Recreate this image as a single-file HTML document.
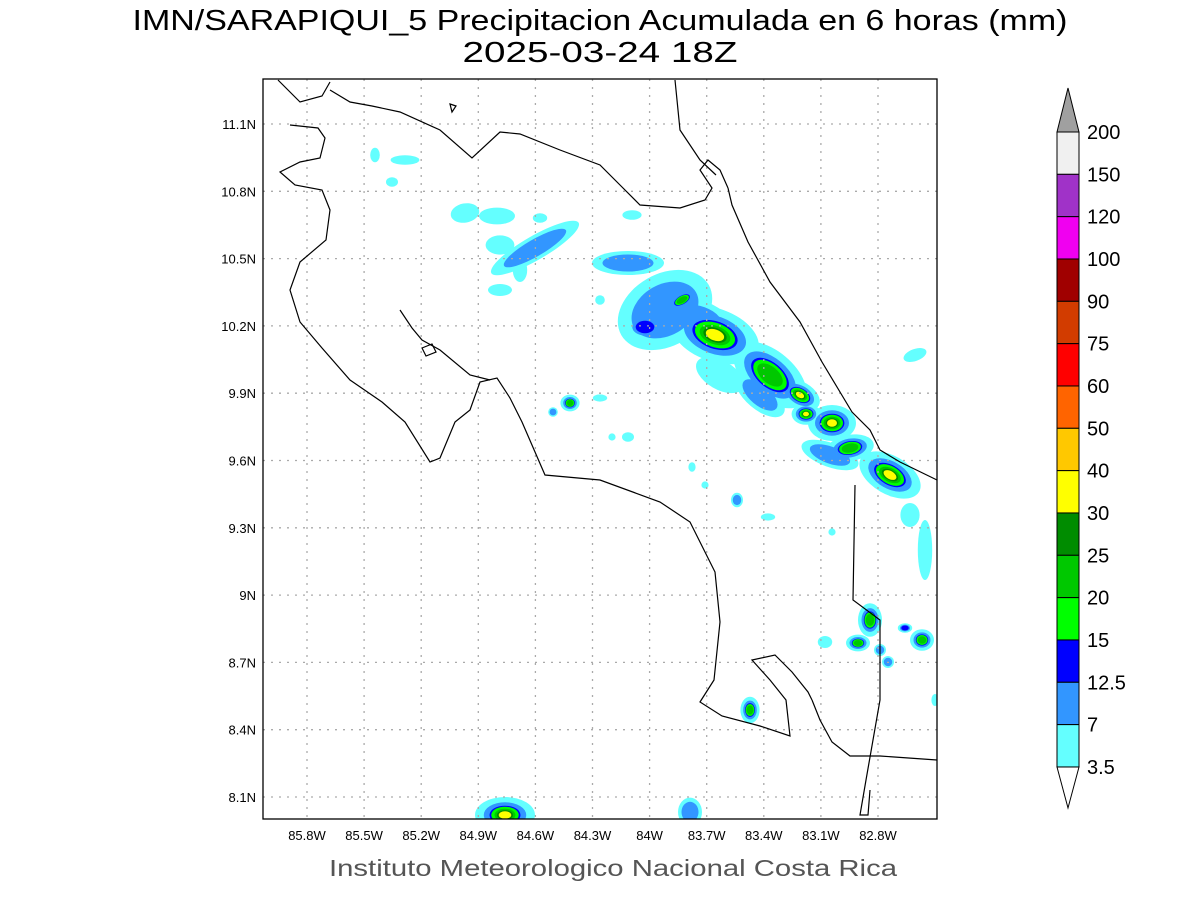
<!DOCTYPE html>
<html><head><meta charset="utf-8"><style>
body{margin:0;background:#fff;}
svg{display:block;font-family:"Liberation Sans",sans-serif;}
</style></head><body>
<svg id="s" width="1200" height="900" xmlns="http://www.w3.org/2000/svg">
<defs><clipPath id="c"><rect x="263" y="79" width="674" height="740"/></clipPath></defs>
<rect width="1200" height="900" fill="#fff"/>
<text x="600" y="30" font-size="29" text-anchor="middle" textLength="935" lengthAdjust="spacingAndGlyphs">IMN/SARAPIQUI_5 Precipitacion Acumulada en 6 horas (mm)</text>
<text x="600" y="62" font-size="29" text-anchor="middle" textLength="275" lengthAdjust="spacingAndGlyphs">2025-03-24 18Z</text>
<g id="blobs" clip-path="url(#c)"></g>
<g id="grid" stroke="#aaa" stroke-width="1.3" stroke-dasharray="2,6" clip-path="url(#c)"></g>
<g fill="none" stroke="#000" stroke-width="1.2" clip-path="url(#c)">
<polyline points="278,80 300,102 322,96 330,82"/>
<polyline points="330,90 350,102 372,106 400,112 440,130 472,158 500,132 520,134 560,150 600,165 620,185 640,205 680,208 705,200 712,188 700,170 708,160 720,170 728,188"/>
<polyline points="290,125 318,128 325,138 320,158 300,162 280,172 295,185 322,190 330,210 326,240 300,262 290,290 300,322 322,348 350,380 382,402 405,422 430,462 440,458 455,422 470,410 480,382 497,378 510,398 522,422 545,475 600,480 660,502 690,522 715,572 720,622 714,680 700,702 722,716 760,726 790,736 786,700 770,680 752,660 775,655 792,672 808,692 812,700"/>
<polyline points="400,310 412,328 422,340 440,350 470,375 490,380"/>
<polygon points="422,348 432,344 436,352 426,356"/>
<polygon points="450,104 456,106 452,112"/>
<polyline points="675,80 680,130 700,160 716,175"/>
<polyline points="728,188 732,205 748,242 770,282 800,322 822,362 840,392 852,412 870,430 880,450 900,462 937,480"/>
<polyline points="855,485 853,600 880,620 880,700 866,780 860,815 868,815 870,790"/>
<polyline points="812,700 820,720 832,742 850,756 880,756 937,760"/>
</g>
<rect x="263" y="79" width="674" height="740" fill="none" stroke="#000" stroke-width="1.3"/>
<g id="lab" font-size="13"></g>
<text x="613" y="876" font-size="23" text-anchor="middle" fill="#555" textLength="568" lengthAdjust="spacingAndGlyphs">Instituto Meteorologico Nacional Costa Rica</text>
<g id="cb" stroke="#000" stroke-width="1"></g>
<g id="cbl" font-size="20"></g>
</svg>
<script>
var NS="http://www.w3.org/2000/svg";
function el(p,t,a,txt){var e=document.createElementNS(NS,t);for(var k in a)e.setAttribute(k,a[k]);if(txt)e.textContent=txt;document.getElementById(p).appendChild(e);return e;}
var lons=["85.8W","85.5W","85.2W","84.9W","84.6W","84.3W","84W","83.7W","83.4W","83.1W","82.8W"];
var lats=["11.1N","10.8N","10.5N","10.2N","9.9N","9.6N","9.3N","9N","8.7N","8.4N","8.1N"];
for(var i=0;i<11;i++){var x=307+i*57.1,y=124+i*67.3;
el("grid","line",{x1:x,y1:79,x2:x,y2:819});
el("grid","line",{x1:263,y1:y,x2:937,y2:y});
el("lab","text",{x:x,y:840,"text-anchor":"middle"},lons[i]);
el("lab","text",{x:256,y:y+5,"text-anchor":"end"},lats[i]);}
var B=[[628,263,30,10,0,2],[665,310,42,30,-30,2],[682,300,14,7,-30,4],[645,327,15,10,0,3],[700,320,28,16,20,2],[715,335,38,22,20,5],[720,375,22,12,30,1],[770,375,36,20,40,4],[800,395,18,11,30,5],[806,414,12,9,0,5],[832,423,20,15,0,5],[850,448,20,11,-10,4],[890,475,28,16,30,5],[830,455,25,10,20,2],[760,395,25,12,40,2],
[570,403,8,7,0,4],[553,412,4,4,0,2],[600,398,6,3,0,1],[628,437,5,4,0,1],[612,437,3,3,0,1],[692,467,3,4,0,1],[705,485,3,3,0,1],[737,500,5,6,0,2],[768,517,6,3,0,1],[832,532,3,3,0,1],
[465,213,12,8,-10,1],[497,216,15,7,0,1],[535,248,42,10,-30,2],[500,245,12,8,0,1],[520,270,6,10,0,1],[500,290,10,5,0,1],[632,215,8,4,0,1],[540,218,6,4,0,1],[405,160,12,4,0,1],[375,155,4,6,0,1],[392,182,5,4,0,1],[915,355,10,5,-20,1],[600,300,4,4,0,1],
[870,620,10,14,0,4],[858,643,10,7,0,4],[922,640,10,9,0,4],[905,628,6,4,0,3],[825,642,6,5,0,1],[880,650,5,5,0,2],[888,662,5,5,0,2],[750,710,8,11,0,4],[505,815,25,15,0,5],[690,812,10,12,0,2],[925,550,6,25,0,1],[910,515,8,10,0,1],[935,700,3,5,0,1]];
var L=[["#64ffff",1.2,1],["#3296ff",.85,2],["#0000ff",.62,3],["#00ff00",.55,4],["#00c800",.42,4],["#008c00",.32,5],["#ffff00",.25,5]];
L.forEach(function(l){B.forEach(function(b){if(b[5]>=l[2])el("blobs","ellipse",{cx:b[0],cy:b[1],rx:b[2]*l[1],ry:b[3]*l[1],fill:l[0],transform:"rotate("+b[4]+" "+b[0]+" "+b[1]+")"});});});
var cols=["#f0f0f0","#a032c8","#f000f0","#a00000","#d23c00","#ff0000","#ff6400","#ffc800","#ffff00","#008c00","#00c800","#00ff00","#0000ff","#3296ff","#64ffff"];
var labs=["200","150","120","100","90","75","60","50","40","30","25","20","15","12.5","7","3.5"];
var T0=132,H=42.33;
el("cb","polygon",{points:"1057,"+T0+" 1079,"+T0+" 1068,88",fill:"#a0a0a0"});
cols.forEach(function(c,i){el("cb","rect",{x:1057,y:T0+i*H,width:22,height:H,fill:c});});
var bt=T0+15*H;
el("cb","polygon",{points:"1057,"+bt+" 1079,"+bt+" 1068,808",fill:"#fff"});
labs.forEach(function(t,i){el("cbl","text",{x:1087,y:T0+i*H+7},t);});
</script>
</body></html>
